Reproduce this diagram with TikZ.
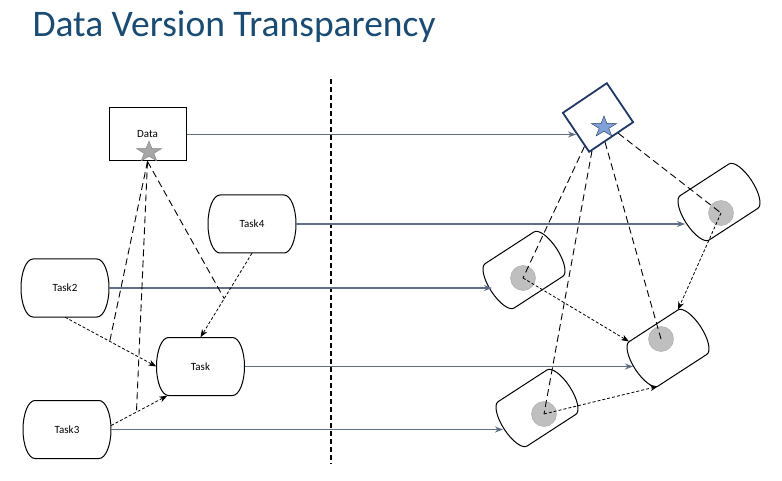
\documentclass[tikz,border=0pt]{standalone}
\usepackage{fontspec}
\setmainfont{Carlito}
\usetikzlibrary{arrows.meta,shapes.geometric}
\definecolor{titleblue}{RGB}{25,75,115}
\definecolor{slate}{RGB}{95,110,130}
\definecolor{navy}{RGB}{31,56,100}
\definecolor{starblue}{RGB}{128,160,215}
\definecolor{stargray}{RGB}{166,166,166}
\definecolor{dotgray}{RGB}{191,191,191}
\begin{document}
\begin{tikzpicture}[x=1pt,y=1pt,
    box/.style={draw, line width=1pt, minimum width=77pt, minimum height=53pt, inner sep=0pt, font=\fontsize{11}{13}\selectfont},
    tasknode/.style={minimum width=88pt, minimum height=58pt, inner sep=0pt, font=\fontsize{11}{13}\selectfont},
    cylnode/.style={minimum width=58pt, minimum height=53pt, inner sep=0pt},
    outline/.style={draw, line width=1pt},
    starnode/.style={star, star points=5, star point ratio=2.6, minimum size=22pt, inner sep=0pt, xscale=1.2},
    version/.style={circle, draw=stargray, fill=dotgray, minimum size=25pt, inner sep=0pt},
    flow/.style={draw=slate, line width=1.4pt, -{Stealth[length=8pt,width=6pt]}},
    dep/.style={dash pattern=on 3pt off 2pt, line width=0.8pt, -{Stealth[length=8pt,width=6pt]}},
    link/.style={dash pattern=on 7pt off 4pt, line width=0.9pt}]
        \path[fill=white, use as bounding box] (0,0) rectangle (782,-481);

        % Title
        \node[anchor=base west, text=titleblue, font=\fontsize{37.5}{40}\selectfont] (title) at (29,-37) {Data Version Transparency};

        % Separator
        \draw[line width=1.5pt, dash pattern=on 5pt off 3pt] (331,-79) -- (331,-464);

        % Data and its versioned copy
        \node[box] (data) at (147.5,-134.5) {Data};
        \node[starnode, draw=gray, fill=stargray] (dstar) at (149,-152) {};
        \node[draw=navy, fill=white, line width=1.8pt, minimum width=53pt, minimum height=47pt, rotate=34] (ver) at (598,-117.5) {};
        \node[starnode, draw=navy, fill=starblue] (vstar) at (604,-127) {};

        % Tasks
        \foreach \n/\x/\y/\txt in {4/252/224/Task4, 2/65/288/Task2, 1/200.5/366.5/Task, 3/67/429.5/Task3}{
            \begin{scope}[shift={(\x,-\y)}]
                \node[tasknode] (t\n) at (0,0) {\txt};
                \draw[outline] (-32,29) -- (32,29) arc[start angle=90, end angle=-90, x radius=12, y radius=29]
                    -- (-32,-29) arc[start angle=270, end angle=90, x radius=12, y radius=29] -- cycle;
            \end{scope}
        }

        % Versioned tasks
        \foreach \n/\x/\y/\cx/\cy in {4/719/202/721/213, 2/524/270/523/278, 1/668/348/661/339, 3/537/408/544/414}{
            \begin{scope}[shift={(\x,-\y)}, rotate=33]
                \node[cylnode, transform shape] (c\n) at (0,0) {};
                \draw[outline] (-29,26.5) -- (29,26.5) arc[start angle=90, end angle=-90, x radius=10, y radius=26.5]
                    -- (-29,-26.5) arc[start angle=270, end angle=90, x radius=10, y radius=26.5] -- cycle;
            \end{scope}
            \node[version] (v\n) at (\cx,-\cy) {};
        }

        % Flow to the right
        \coordinate (verin) at (576,-134.5);
        \coordinate (c4in) at (685,-224);
        \coordinate (c2in) at (492,-288);
        \coordinate (c1in) at (633,-366.5);
        \coordinate (c3in) at (503,-429.5);
        \draw[flow] (data.east) -- (verin);
        \draw[flow] (t4.east) -- (c4in);
        \draw[flow] (t2.east) -- (c2in);
        \draw[flow] (t1.east) -- (c1in);
        \draw[flow] (t3.east) -- (c3in);

        % Dependencies
        \draw[dep] (t2.south) -- (t1.west) coordinate[pos=0.49] (m2);
        \draw[dep] ([yshift=4pt]t3.east) -- ([xshift=11pt]t1.south west) coordinate[pos=0.45] (m3);
        \draw[dep] (t4.south) -- (t1.north) coordinate[pos=0.54] (m4);
        \draw[dep] (v4.center) -- (c1.north east);
        \draw[dep] (v2.center) -- (c1.north west);
        \draw[dep] (v3.center) -- (c1.south west);

        % Data links
        \draw[link] (data.south) -- (m2);
        \draw[link] (data.south) -- (m3);
        \draw[link] (data.south) -- (m4);
        \draw[link] (ver) -- (v4.center);
        \draw[link] (ver) -- (v2.center);
        \draw[link] (ver) -- (v1.center);
        \draw[link] (ver) -- (v3.center);
    \end{tikzpicture}
\end{document}
